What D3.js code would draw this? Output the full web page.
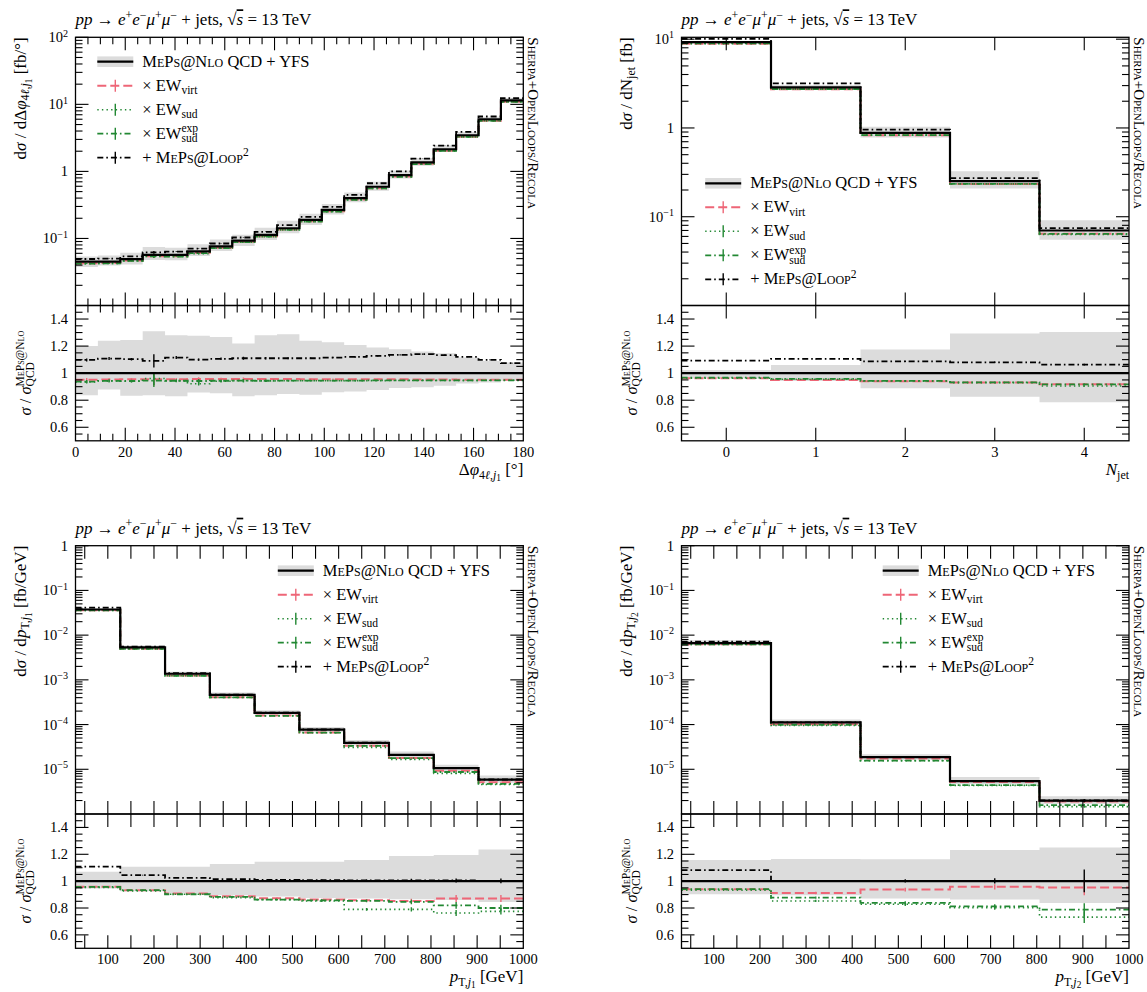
<!DOCTYPE html>
<html>
<head>
<meta charset="utf-8">
<script src="https://cdn.jsdelivr.net/npm/d3@7"></script>
<style>
body { margin: 0; background: #fff; }
svg text { font-family: "Liberation Serif", "DejaVu Serif", serif; fill: #000; }
</style>
</head>
<body>
<svg id="chart" width="1147" height="992"></svg>
<script>
"use strict"

// ---- delta phi(4l, j1) ----
const dphiEdges = [0,9,18,27,36,45,54,63,72,81,90,99,108,117,126,135,144,153,162,171,180];
const dphiQCD   = [0.045,0.045,0.049,0.057,0.057,0.064,0.076,0.093,0.113,0.142,0.189,0.266,0.40,0.59,0.88,1.36,2.14,3.46,6.0,11.5];
const dphiBandLo = [0.837,0.88,0.833,0.837,0.83,0.857,0.852,0.83,0.837,0.845,0.84,0.858,0.865,0.875,0.89,0.895,0.907,0.924,0.93,0.944];
const dphiBandHi = [1.20,1.24,1.245,1.31,1.28,1.276,1.268,1.22,1.28,1.288,1.24,1.228,1.208,1.19,1.176,1.16,1.147,1.115,1.09,1.078];
const dphiVirt  = [0.952,0.953,0.954,0.955,0.955,0.956,0.956,0.956,0.956,0.956,0.955,0.955,0.955,0.954,0.954,0.953,0.953,0.952,0.952,0.951];
const dphiSud   = [0.935,0.943,0.94,0.96,0.943,0.922,0.94,0.945,0.943,0.944,0.944,0.944,0.945,0.945,0.946,0.946,0.946,0.946,0.947,0.947];
const dphiExp   = [0.938,0.943,0.942,0.945,0.944,0.942,0.944,0.945,0.944,0.945,0.945,0.945,0.945,0.946,0.946,0.946,0.946,0.947,0.947,0.947];
const dphiLoop2 = [1.098,1.108,1.103,1.09,1.115,1.10,1.106,1.11,1.11,1.11,1.11,1.115,1.12,1.128,1.135,1.14,1.133,1.12,1.098,1.074];
const dphiErrLoop2 = [0.01,0.01,0.008,0.045,0.01,0.008,0.008,0.01,0.008,0.006,0.005,0.005,0.005,0.004,0.004,0.004,0.004,0.003,0.003,0.003];
const dphiErrEW    = [0.012,0.01,0.01,0.05,0.01,0.015,0.01,0.012,0.008,0.006,0.006,0.005,0.005,0.004,0.004,0.004,0.004,0.003,0.003,0.003];

// ---- N_jet ----
const njetEdges = [-0.5,0.5,1.5,2.5,3.5,4.5];
const njetQCD   = [9.25,2.87,0.88,0.252,0.070];
const njetBandLo = [0.96,0.9425,0.8875,0.825,0.785];
const njetBandHi = [1.0225,1.06,1.175,1.2925,1.305];
const njetVirt  = [0.9625,0.95,0.94,0.93,0.9175];
const njetSud   = [0.9625,0.955,0.9425,0.93,0.905];
const njetExp   = [0.9675,0.9575,0.9425,0.9325,0.9175];
const njetLoop2 = [1.0925,1.105,1.0875,1.08,1.0625];
const njetErrLoop2 = [0.002,0.003,0.004,0.005,0.006];
const njetErrEW    = [0.002,0.003,0.004,0.005,0.006];

// ---- pT(j1) ----
const pt1Edges = [30,127,224,321,418,515,612,709,806,903,1000];
const pt1QCD   = [0.0374,0.0053,0.00137,4.6e-4,1.82e-4,7.7e-5,3.9e-5,2.1e-5,1.06e-5,5.9e-6];
const pt1BandLo = [0.945,0.925,0.91,0.895,0.885,0.875,0.87,0.865,0.86,0.845];
const pt1BandHi = [1.07,1.1075,1.1075,1.1275,1.145,1.145,1.1575,1.1875,1.195,1.235];
const pt1Virt  = [0.9575,0.9325,0.9075,0.8875,0.8725,0.8625,0.8575,0.8525,0.87,0.87];
const pt1Sud   = [0.9525,0.9275,0.9025,0.8775,0.8625,0.8525,0.79,0.79,0.7625,0.775];
const pt1Exp   = [0.9575,0.9325,0.9025,0.8825,0.8625,0.8575,0.8525,0.845,0.82,0.80];
const pt1Loop2 = [1.1075,1.045,1.025,1.015,1.01,1.0075,1.005,1.005,1.005,1.0025];
const pt1ErrLoop2 = [0.001,0.002,0.002,0.003,0.004,0.005,0.008,0.012,0.015,0.018];
const pt1ErrEW    = [0.002,0.003,0.003,0.004,0.006,0.008,0.012,0.02,0.03,0.03];

// ---- pT(j2) ----
const pt2Edges = [30,224,418,612,806,1000];
const pt2QCD   = [0.00663,1.12e-4,1.87e-5,5.45e-6,2.0e-6];
const pt2BandLo = [0.9025,0.895,0.87,0.8625,0.8375];
const pt2BandHi = [1.1575,1.165,1.1625,1.2325,1.25];
const pt2Virt  = [0.94,0.9125,0.9375,0.9575,0.9525];
const pt2Sud   = [0.9325,0.8525,0.8275,0.8025,0.7325];
const pt2Exp   = [0.94,0.8775,0.8375,0.8125,0.7875];
const pt2Loop2 = [1.0825,1.0025,1.002,1.002,1.002];
const pt2ErrLoop2 = [0.002,0.004,0.012,0.02,0.085];
const pt2ErrEW    = [0.003,0.01,0.015,0.02,0.06];

// tick labels
const dphiTicks  = [0,20,40,60,80,100,120,140,160,180];
const njetTicks  = [0,1,2,3,4];
const ptTicks    = [100,200,300,400,500,600,700,800,900,1000];
const ratioTicks = [0.6,0.8,1,1.2,1.4];

const styles = {
    qcd:   { color: "#000000", width: 2.2, dash: null },
    virt:  { color: "#ee6677", width: 2.0, dash: "9,4" },
    sud:   { color: "#228833", width: 1.6, dash: "1.4,3.2" },
    exp:   { color: "#228833", width: 1.8, dash: "6,3,1.6,3" },
    loop2: { color: "#000000", width: 1.8, dash: "6,3,1.6,3" }
};
const bandColor = "#dcdcdc";

const legendRows = [
    { key: "qcd",   parts: [["MePs@Nlo", "sc"], [" QCD + YFS"]] },
    { key: "virt",  parts: [["× EW"], ["virt", "sub"]] },
    { key: "sud",   parts: [["× EW"], ["sud", "sub"]] },
    { key: "exp",   parts: [["× EW"], ["sud", "sub stack"], ["exp", "sup"]] },
    { key: "loop2", parts: [["+ "], ["MePs@Loop", "sc"], ["2", "sup"]] }
];

const titleParts = [["pp", "i"], [" → "], ["e", "i"], ["+", "sup"], ["e", "i"], ["−", "sup"],
    ["μ", "i"], ["+", "sup"], ["μ", "i"], ["−", "sup"], [" + jets, "], ["√"], ["s", "i ov"], [" = 13 TeV"]];
const ratioLabelParts = [["σ", "i"], [" / "], ["σ", "i"], ["QCD", "sub stack"], ["MePs@Nlo", "sup sc"]];

const panels = [
    { x0: 75.5, x1: 523.3, y0: 37.3, ym: 305.5, y1: 440.8,
      edges: dphiEdges, qcd: dphiQCD, lo: dphiBandLo, hi: dphiBandHi,
      ratios: { virt: dphiVirt, sud: dphiSud, exp: dphiExp, loop2: dphiLoop2 },
      errL: dphiErrLoop2, errEW: dphiErrEW,
      xDomain: [0, 180], yDomain: [1e-2, 1e2], xTicks: dphiTicks, xMinor: d3.range(5, 180, 5),
      legend: [97.3, 61.7],
      ylab: [["d"], ["σ", "i"], [" / d"], ["Δ"], ["φ", "i"], ["4", "sub"], ["ℓ", "sub i"], [",", "sub"], ["j", "sub i"], ["1", "sub2"], ["  [fb/°]"]],
      xlab: [["Δ"], ["φ", "i"], ["4", "sub"], ["ℓ", "sub i"], [",", "sub"], ["j", "sub i"], ["1", "sub2"], [" [°]"]] },
    { x0: 681.5, x1: 1129, y0: 37.3, ym: 305.5, y1: 440.8,
      edges: njetEdges, qcd: njetQCD, lo: njetBandLo, hi: njetBandHi,
      ratios: { virt: njetVirt, sud: njetSud, exp: njetExp, loop2: njetLoop2 },
      errL: njetErrLoop2, errEW: njetErrEW,
      xDomain: [-0.5, 4.5], yDomain: [1e-2, 10.5], xTicks: njetTicks, xMinor: [],
      legend: [705.2, 183.3],
      ylab: [["d"], ["σ", "i"], [" / dN"], ["jet", "sub"], [" [fb]"]],
      xlab: [["N", "i"], ["jet", "sub"]] },
    { x0: 75.5, x1: 523.3, y0: 545.7, ym: 814, y1: 948.3,
      edges: pt1Edges, qcd: pt1QCD, lo: pt1BandLo, hi: pt1BandHi,
      ratios: { virt: pt1Virt, sud: pt1Sud, exp: pt1Exp, loop2: pt1Loop2 },
      errL: pt1ErrLoop2, errEW: pt1ErrEW,
      xDomain: [30, 1000], yDomain: [1e-6, 1], xTicks: ptTicks, xMinor: d3.range(50, 1000, 100),
      legend: [277.8, 570.7],
      ylab: [["d"], ["σ", "i"], [" / d"], ["p", "i"], ["T", "sub"], [",", "sub"], ["j", "sub i"], ["1", "sub2"], ["  [fb/GeV]"]],
      xlab: [["p", "i"], ["T", "sub"], [",", "sub"], ["j", "sub i"], ["1", "sub2"], [" [GeV]"]] },
    { x0: 681.5, x1: 1129, y0: 545.7, ym: 814, y1: 948.3,
      edges: pt2Edges, qcd: pt2QCD, lo: pt2BandLo, hi: pt2BandHi,
      ratios: { virt: pt2Virt, sud: pt2Sud, exp: pt2Exp, loop2: pt2Loop2 },
      errL: pt2ErrLoop2, errEW: pt2ErrEW,
      xDomain: [30, 1000], yDomain: [1e-6, 1], xTicks: ptTicks, xMinor: d3.range(50, 1000, 100),
      legend: [882.7, 570.7],
      ylab: [["d"], ["σ", "i"], [" / d"], ["p", "i"], ["T", "sub"], [",", "sub"], ["j", "sub i"], ["2", "sub2"], ["  [fb/GeV]"]],
      xlab: [["p", "i"], ["T", "sub"], [",", "sub"], ["j", "sub i"], ["2", "sub2"], [" [GeV]"]] }
];

const svg = d3.select("#chart");

// rich text with sub/superscripts, italics, small caps
function rich(text, parts, fs) {
    let cur = 0;
    let back = 0;
    parts.forEach(function (p) {
        const tok = (p[1] || "").split(" ");
        let off = 0, size = fs;
        if (tok.includes("sub2")) { off = 0.36 * fs; size = 0.55 * fs; }
        else if (tok.includes("sub")) { off = 0.22 * fs; size = 0.7 * fs; }
        else if (tok.includes("sup")) { off = -0.4 * fs; size = 0.7 * fs; }
        const t = text.append("tspan").text(p[0]).attr("font-size", size);
        if (off !== cur) t.attr("dy", off - cur);
        if (back) { t.attr("dx", -back); back = 0; }
        if (tok.includes("i")) t.attr("font-style", "italic");
        if (tok.includes("sc")) t.attr("font-variant", "small-caps");
        if (tok.includes("ov")) t.style("text-decoration", "overline");
        if (tok.includes("stack")) back = t.node().getComputedTextLength();
        cur = off;
    });
    return text;
}

function stepPts(edges, vals) {
    const pts = vals.map(function (v, i) { return [edges[i], v]; });
    pts.push([edges[edges.length - 1], vals[vals.length - 1]]);
    return pts;
}

function drawPanel(P, idx) {
    const xs = d3.scaleLinear().domain(P.xDomain).range([P.x0, P.x1]);
    const ys = d3.scaleLog().domain(P.yDomain).range([P.ym, P.y0]);
    const yr = d3.scaleLinear().domain([0.5, 1.5]).range([P.y1, P.ym]);
    const n = P.qcd.length;
    const centers = d3.range(n).map(function (i) { return (P.edges[i] + P.edges[i + 1]) / 2; });

    const g = svg.append("g");
    const defs = g.append("defs");
    defs.append("clipPath").attr("id", "cm" + idx).append("rect")
        .attr("x", P.x0).attr("y", P.y0).attr("width", P.x1 - P.x0).attr("height", P.ym - P.y0);
    defs.append("clipPath").attr("id", "cr" + idx).append("rect")
        .attr("x", P.x0).attr("y", P.ym).attr("width", P.x1 - P.x0).attr("height", P.y1 - P.ym);

    const gm = g.append("g").attr("clip-path", "url(#cm" + idx + ")");
    const gr = g.append("g").attr("clip-path", "url(#cr" + idx + ")");

    // bands
    const bandMain = P.qcd.map(function (q, i) { return [P.edges[i], q * P.lo[i], q * P.hi[i]]; });
    bandMain.push([P.edges[n], P.qcd[n - 1] * P.lo[n - 1], P.qcd[n - 1] * P.hi[n - 1]]);
    gm.append("path")
        .attr("d", d3.area().x(d => xs(d[0])).y0(d => ys(d[1])).y1(d => ys(d[2])).curve(d3.curveStepAfter)(bandMain))
        .attr("fill", bandColor);
    const bandRatio = P.lo.map(function (l, i) { return [P.edges[i], l, P.hi[i]]; });
    bandRatio.push([P.edges[n], P.lo[n - 1], P.hi[n - 1]]);
    gr.append("path")
        .attr("d", d3.area().x(d => xs(d[0])).y0(d => yr(d[1])).y1(d => yr(d[2])).curve(d3.curveStepAfter)(bandRatio))
        .attr("fill", bandColor);

    const lineMain = d3.line().x(d => xs(d[0])).y(d => ys(d[1])).curve(d3.curveStepAfter);
    const lineRatio = d3.line().x(d => xs(d[0])).y(d => yr(d[1])).curve(d3.curveStepAfter);

    ["virt", "sud", "exp", "loop2", "qcd"].forEach(function (key) {
        const st = styles[key];
        const ratio = key === "qcd" ? P.qcd.map(() => 1) : P.ratios[key];
        const err = key === "loop2" ? P.errL : (key === "qcd" ? P.qcd.map(() => 0.002) : P.errEW);
        const main = P.qcd.map((q, i) => q * ratio[i]);

        [[gm, lineMain, main, ys], [gr, lineRatio, ratio, yr]].forEach(function (set) {
            const grp = set[0], gen = set[1], vals = set[2], sc = set[3];
            grp.append("path")
                .attr("d", gen(stepPts(P.edges, vals)))
                .attr("fill", "none")
                .attr("stroke", st.color)
                .attr("stroke-width", st.width)
                .attr("stroke-dasharray", st.dash);
            grp.selectAll(null).data(centers).enter().append("line")
                .attr("x1", d => xs(d)).attr("x2", d => xs(d))
                .attr("y1", (d, i) => sc(vals[i] * (1 - err[i])))
                .attr("y2", (d, i) => sc(vals[i] * (1 + err[i])))
                .attr("stroke", st.color)
                .attr("stroke-width", 1.4);
        });
    });

    // frames
    [[P.y0, P.ym], [P.ym, P.y1]].forEach(function (r) {
        g.append("rect").attr("x", P.x0).attr("y", r[0])
            .attr("width", P.x1 - P.x0).attr("height", r[1] - r[0])
            .attr("fill", "none").attr("stroke", "#000").attr("stroke-width", 1.3);
    });

    const MAJ = 13, MIN = 7;
    const tk = g.append("g").attr("stroke", "#000").attr("stroke-width", 1.1);
    function vtick(x, yBase, len) {
        tk.append("line").attr("x1", x).attr("x2", x).attr("y1", yBase).attr("y2", yBase + len);
    }
    function htick(y, xBase, len) {
        tk.append("line").attr("x1", xBase).attr("x2", xBase + len).attr("y1", y).attr("y2", y);
    }

    // x ticks (top/bottom of both pads)
    const xMajor = P.xTicks.filter(v => v > P.xDomain[0] && v < P.xDomain[1]);
    const xMid = P.xDomain[0] === 30 ? P.xMinor : [];
    const xMin = P.xDomain[0] === 30 ? [] : P.xMinor.filter(v => xMajor.indexOf(v) < 0);
    [[P.y0, 1], [P.ym, -1], [P.ym, 1], [P.y1, -1]].forEach(function (e) {
        xMajor.concat(xMid).forEach(v => vtick(xs(v), e[0], e[1] * MAJ));
        xMin.forEach(v => vtick(xs(v), e[0], e[1] * MIN));
    });

    // log y ticks on main pad
    const lmin = Math.floor(Math.log10(P.yDomain[0])), lmax = Math.ceil(Math.log10(P.yDomain[1]));
    for (let d = lmin; d <= lmax; d++) {
        for (let k = 1; k <= 9; k++) {
            const v = k * Math.pow(10, d);
            const y = ys(v);
            if (y < P.y0 - 0.5 || y > P.ym - 0.5) continue;
            const len = k === 1 ? MAJ : MIN;
            htick(y, P.x0, len);
            htick(y, P.x1, -len);
            if (k === 1) {
                const t = g.append("text").attr("x", P.x0 - 7.5).attr("y", y + 5)
                    .attr("text-anchor", "end").attr("font-size", 14.5);
                if (d === 0) t.text("1");
                else rich(t, [["10"], [d < 0 ? "−" + (-d) : String(d), "sup"]], 14.5);
            }
        }
    }

    // ratio y ticks
    d3.range(0.55, 1.5, 0.05).forEach(function (v) {
        const major = ratioTicks.some(r => Math.abs(r - v) < 1e-6);
        const len = major ? MAJ : MIN;
        htick(yr(v), P.x0, len);
        htick(yr(v), P.x1, -len);
    });
    ratioTicks.forEach(function (v) {
        g.append("text").attr("x", P.x0 - 7.5).attr("y", yr(v) + 5)
            .attr("text-anchor", "end").attr("font-size", 14.5).text(String(v));
    });

    // x tick labels
    P.xTicks.forEach(function (v) {
        g.append("text").attr("x", xs(v)).attr("y", P.y1 + 16)
            .attr("text-anchor", "middle").attr("font-size", 14.5).text(String(v));
    });

    // title
    rich(g.append("text").attr("x", P.x0).attr("y", P.y0 - 12), titleParts, 17);

    // axis labels
    rich(g.append("text").attr("text-anchor", "end").attr("font-size", 17)
        .attr("transform", "translate(" + (P.x0 - 50) + "," + P.y0 + ") rotate(-90)"), P.ylab, 17);
    rich(g.append("text").attr("text-anchor", "middle").attr("font-size", 16.5)
        .attr("transform", "translate(" + (P.x0 - 45) + "," + ((P.ym + P.y1) / 2) + ") rotate(-90)"), ratioLabelParts, 16.5);
    rich(g.append("text").attr("text-anchor", "end").attr("x", P.x1).attr("y", P.y1 + 34), P.xlab, 17);

    // generator label on the right
    g.append("text").attr("font-size", 15).attr("font-variant", "small-caps")
        .attr("transform", "translate(" + (P.x1 + 5) + "," + P.y0 + ") rotate(90)")
        .text("Sherpa+OpenLoops/Recola");

    // legend
    const lx = P.legend[0], ly = P.legend[1];
    legendRows.forEach(function (row, i) {
        const y = ly + i * 24;
        const st = styles[row.key];
        if (row.key === "qcd") {
            g.append("rect").attr("x", lx).attr("y", y - 5.3).attr("width", 36).attr("height", 10.6).attr("fill", bandColor);
        } else {
            g.append("line").attr("x1", lx + 18).attr("x2", lx + 18).attr("y1", y - 6).attr("y2", y + 6)
                .attr("stroke", st.color).attr("stroke-width", 1.4);
        }
        g.append("line").attr("x1", lx).attr("x2", lx + 36).attr("y1", y).attr("y2", y)
            .attr("stroke", st.color).attr("stroke-width", st.width).attr("stroke-dasharray", st.dash);
        rich(g.append("text").attr("x", lx + 45).attr("y", y + 5), row.parts, 16.5);
    });
}

panels.forEach(drawPanel);
</script>
</body>
</html>
